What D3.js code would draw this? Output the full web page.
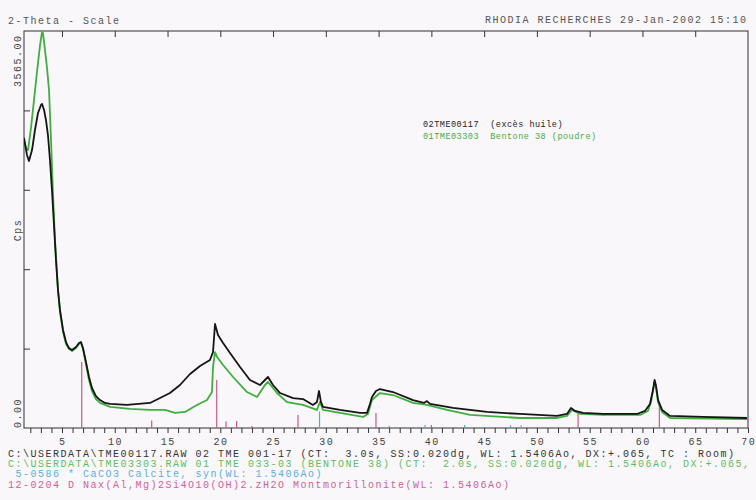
<!DOCTYPE html>
<html><head><meta charset="utf-8">
<script src="https://cdn.jsdelivr.net/npm/d3@7"></script>
<style>
html,body{margin:0;padding:0;background:#f9f7f9;}
svg{display:block;}
text{font-family:"Liberation Mono","DejaVu Sans Mono",monospace;white-space:pre;}
</style></head>
<body>
<svg id="c" width="756" height="500"></svg>
<script>
// ---- data ----
const blackDeg = [1.40,1.68,1.87,2.16,2.44,2.73,3.01,3.11,3.30,3.48,3.67,3.86,4.05,4.24,4.43,4.62,4.81,5.10,5.38,5.66,5.95,6.33,6.61,6.80,6.99,7.27,7.56,7.84,8.22,8.60,9.07,9.55,11.16,13.34,14.29,15.23,16.18,17.13,18.08,19.02,19.31,19.50,19.78,20.26,20.92,21.87,22.81,23.76,24.23,24.52,24.99,25.66,26.89,27.83,28.78,29.16,29.35,29.54,29.73,31.34,33.24,33.90,34.18,34.37,34.75,35.13,36.36,38.26,39.30,39.58,39.87,42.05,45.27,48.40,51.90,52.85,53.23,53.61,54.37,56.26,59.48,60.24,60.71,61.00,61.15,61.29,61.48,61.86,62.62,65.73,69.90];
const blackCps = [2604,2452,2398,2496,2676,2829,2901,2910,2856,2766,2631,2407,2137,1823,1509,1239,1060,880,772,718,700,727,763,772,718,593,458,359,287,251,225,216,207,225,269,314,386,485,557,611,682,934,835,763,674,548,431,386,431,458,386,314,269,260,207,233,332,233,189,162,135,135,216,278,332,350,323,251,225,242,216,180,144,126,108,126,180,153,135,126,126,153,216,341,431,377,251,162,108,99,90];
const greenDeg = [1.40,1.59,1.78,2.06,2.35,2.63,2.92,3.11,3.20,3.39,3.58,3.77,3.96,4.15,4.34,4.62,4.81,5.10,5.38,5.66,5.95,6.33,6.61,6.80,6.99,7.27,7.56,7.84,8.22,8.60,9.55,11.44,13.34,14.76,15.71,16.65,17.79,18.74,19.21,19.31,19.50,19.69,20.26,21.21,22.53,23.48,24.23,24.52,25.37,26.32,27.83,29.16,29.44,29.73,31.34,33.52,33.99,34.37,35.13,36.36,38.26,39.58,41.48,43.66,48.40,51.90,52.85,53.32,54.08,56.26,59.77,60.52,60.81,61.15,61.29,61.48,61.86,62.62,69.90];
const greenCps = [2586,2514,2496,2694,2945,3197,3439,3556,3547,3394,3233,3035,2586,2092,1688,1239,1042,862,754,709,691,718,754,763,709,575,431,332,260,225,189,171,162,162,135,144,207,251,323,548,682,638,566,458,323,278,386,413,314,233,207,162,233,162,135,99,126,251,314,296,225,207,162,117,90,90,108,162,126,117,117,153,233,422,359,233,144,90,81];
// reference sticks (position in 2-theta, height in Cps)
const montDeg = [6.87,13.5,19.66,20.54,21.55,23.0,27.36,34.75,40.0,53.9,61.6];
const montCps = [593,67,431,58,63,18,117,135,27,135,216];
const calcDeg = [29.4,36.0,39.4,43.15,47.5,48.5];
const calcCps = [148,20,27,27,25,25];
const xTickLabels = [5,10,15,20,25,30,35,40,45,50,55,60,65,70];
const yLabelTop = "3565.00", yLabelBottom = "0.00", yTitle = "Cps";
const headerLeft = "2-Theta - Scale";
const headerRight = "RHODIA RECHERCHES 29-Jan-2002 15:10";
const legendNames = ["02TME00117  (excès huile)", "01TME03303  Bentone 38 (poudre)"];
const footLines = [
 "C:\\USERDATA\\TME00117.RAW 02 TME 001-17 (CT:  3.0s, SS:0.020dg, WL: 1.5406Ao, DX:+.065, TC : Room)",
 "C:\\USERDATA\\TME03303.RAW 01 TME 033-03 (BENTONE 38) (CT:  2.0s, SS:0.020dg, WL: 1.5406Ao, DX:+.065,",
 "5-0586 * CaCO3 Calcite, syn(WL: 1.5406Ao)",
 "12-0204 D Nax(Al,Mg)2Si4O10(OH)2.zH2O Montmorillonite(WL: 1.5406Ao)"
];

// ---- layout ----
const L = 24, R = 748, T = 31, B = 428;
const svg = d3.select("#c");
const x = d3.scaleLinear().domain([1.4, 70]).range([L, R]);
const y = d3.scaleLinear().domain([0, 3565]).range([B, T]);
const baseFont = {size: 10, ls: 1.5};

// frame
svg.append("rect").attr("x", L).attr("y", T).attr("width", R - L).attr("height", B - T)
  .attr("fill", "none").attr("stroke", "#333").attr("stroke-width", 1);

// bottom axis ticks every degree
const bottomAxis = d3.axisBottom(x).tickValues(d3.range(2, 71, 1)).tickSize(5).tickFormat("");
const gb = svg.append("g").attr("transform", `translate(0,${B})`).call(bottomAxis);
gb.select(".domain").remove();
gb.selectAll("line").attr("stroke", "#333");
svg.append("g").selectAll("text").data(xTickLabels).join("text")
  .attr("x", d => x(d) + 0.8).attr("y", 444.5).attr("text-anchor", "middle")
  .attr("font-size", baseFont.size).attr("letter-spacing", baseFont.ls).attr("fill", "#444")
  .text(d => d);

// top ticks every 5 degrees (inside)
const topAxis = d3.axisBottom(x).tickValues(d3.range(5, 70, 5)).tickSize(6).tickFormat("");
const gt = svg.append("g").attr("transform", `translate(0,${T})`).call(topAxis);
gt.select(".domain").remove();
gt.selectAll("line").attr("stroke", "#333");

// left ticks (inside)
const leftAxis = d3.axisRight(y).tickValues([713, 1426, 2139, 2852]).tickSize(6).tickFormat("");
const gl = svg.append("g").attr("transform", `translate(${L},0)`).call(leftAxis);
gl.select(".domain").remove();
gl.selectAll("line").attr("stroke", "#333");

// y labels rotated
function rot(txt, yy, anchor){
  svg.append("text").attr("transform", `translate(20.5,${yy}) rotate(-90)`)
    .attr("text-anchor", anchor).attr("font-size", baseFont.size).attr("letter-spacing", baseFont.ls)
    .attr("fill", "#444").text(txt);
}
rot(yLabelTop, 87, "start");
rot(yTitle, 230, "middle");
rot(yLabelBottom, 428, "start");

// sticks
const stickG = svg.append("g");
stickG.selectAll(".m").data(montDeg).join("line").attr("class", "m")
  .attr("x1", d => x(d)).attr("x2", d => x(d)).attr("y1", y(0))
  .attr("y2", (d, i) => y(montCps[i])).attr("stroke", "#c85a86").attr("stroke-width", 1.2);
stickG.selectAll(".c").data(calcDeg).join("line").attr("class", "c")
  .attr("x1", d => x(d)).attr("x2", d => x(d)).attr("y1", y(0))
  .attr("y2", (d, i) => y(calcCps[i])).attr("stroke", "#5aa5d6").attr("stroke-width", 1.2);

// curves
const line = d3.line().x(d => x(d[0])).y(d => y(d[1]));
svg.append("clipPath").attr("id", "pc").append("rect")
  .attr("x", L).attr("y", T - 2).attr("width", R - L).attr("height", B - T + 2);
svg.append("path").datum(d3.zip(greenDeg, greenCps)).attr("d", line)
  .attr("fill", "none").attr("stroke", "#3fae3f").attr("stroke-width", 1.8)
  .attr("stroke-linejoin", "round").attr("clip-path", "url(#pc)");
svg.append("path").datum(d3.zip(blackDeg, blackCps)).attr("d", line)
  .attr("fill", "none").attr("stroke", "#151515").attr("stroke-width", 1.8)
  .attr("stroke-linejoin", "round").attr("clip-path", "url(#pc)");

// headers
svg.append("text").attr("x", 8).attr("y", 24).attr("font-size", baseFont.size)
  .attr("letter-spacing", baseFont.ls).attr("fill", "#555").text(headerLeft);
svg.append("text").attr("x", 485).attr("y", 23).attr("font-size", baseFont.size)
  .attr("letter-spacing", baseFont.ls).attr("fill", "#555").text(headerRight);

// legend
const legColors = ["#222", "#3fae3f"];
svg.append("g").selectAll("text").data(legendNames).join("text")
  .attr("x", 423).attr("y", (d, i) => 127 + i * 11.5)
  .attr("font-size", 8.5).attr("letter-spacing", 0.5).attr("fill", (d, i) => legColors[i])
  .text(d => d);

// footer lines
const footColors = ["#333", "#5cbf5c", "#5aaee0", "#d0609a"];
const footX = [8, 8, 15.5, 8];
const footY = [457, 467, 477, 488];
svg.append("g").selectAll("text").data(footLines).join("text")
  .attr("x", (d, i) => footX[i]).attr("y", (d, i) => footY[i])
  .attr("font-size", baseFont.size).attr("letter-spacing", baseFont.ls)
  .attr("fill", (d, i) => footColors[i]).text(d => d);
</script>
</body></html>
